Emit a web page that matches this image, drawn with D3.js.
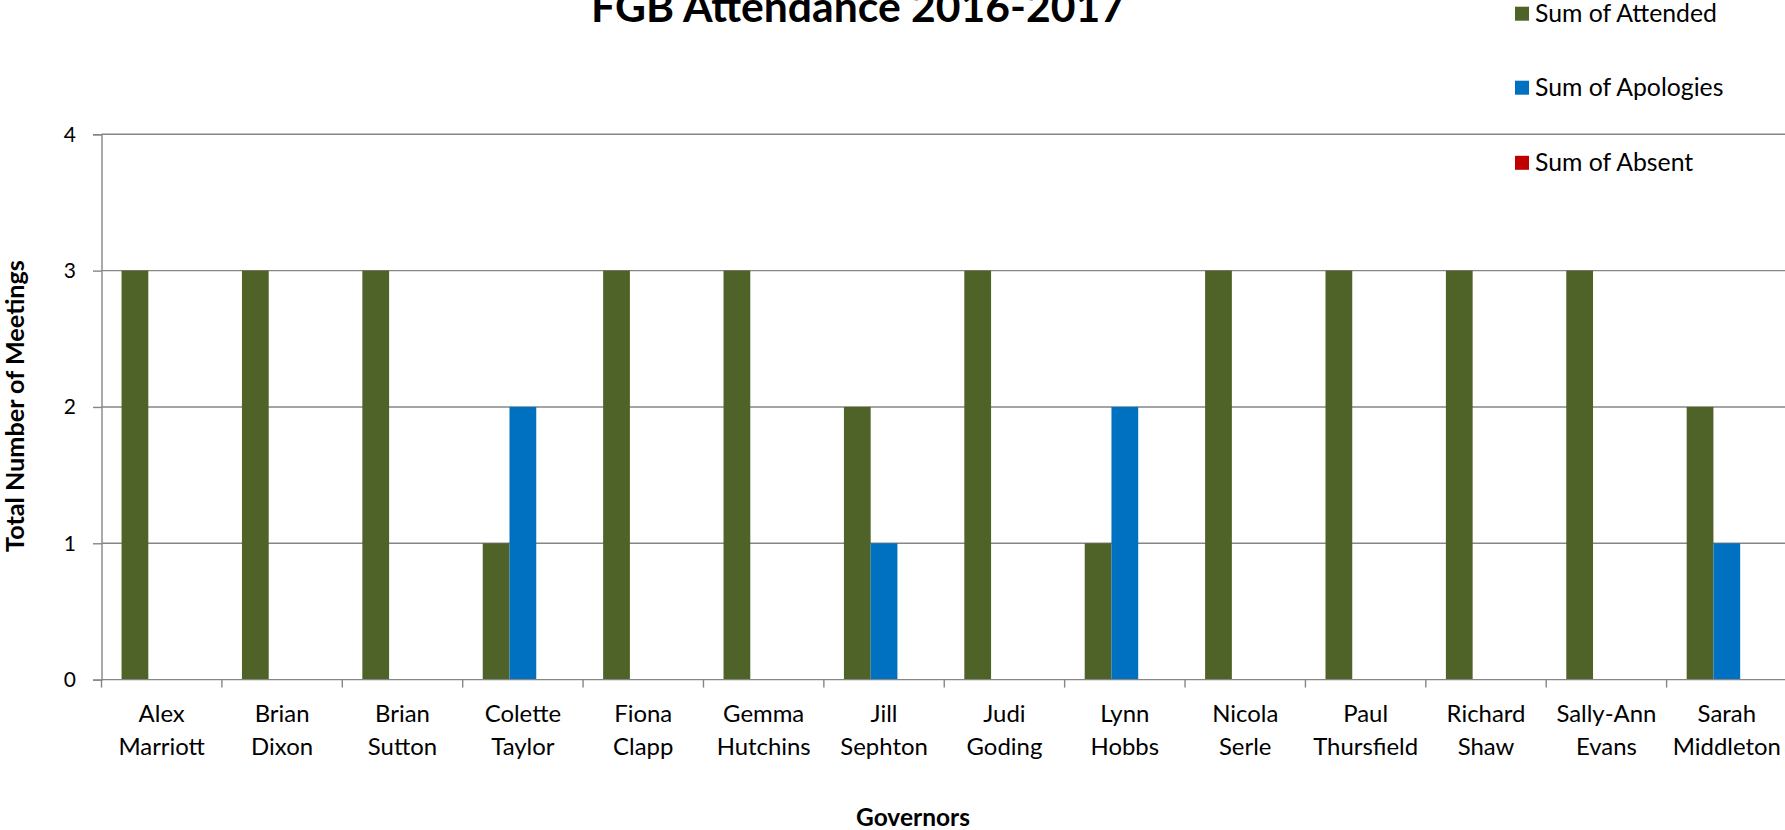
<!DOCTYPE html>
<html><head><meta charset="utf-8">
<script src="https://cdn.jsdelivr.net/npm/d3@7"></script>
<style>
html,body{margin:0;padding:0;background:#fff;}
svg{display:block;}
text{font-family:Lato, "Open Sans", sans-serif;fill:#000;}
</style></head>
<body><svg id="c" width="1785" height="830"></svg>
<script>
const governors = ["Alex Marriott","Brian Dixon","Brian Sutton","Colette Taylor","Fiona Clapp","Gemma Hutchins","Jill Sephton","Judi Goding","Lynn Hobbs","Nicola Serle","Paul Thursfield","Richard Shaw","Sally-Ann Evans","Sarah Middleton"];
const attended  = [3,3,3,1,3,3,2,3,1,3,3,3,3,2];
const apologies = [0,0,0,2,0,0,1,0,2,0,0,0,0,1];
const absent    = [0,0,0,0,0,0,0,0,0,0,0,0,0,0];
const seriesNames = ["Sum of Attended","Sum of Apologies","Sum of Absent"];
const seriesColors = ["#4F6228","#0070C0","#C00000"];
const yTicks = [0,1,2,3,4];

(function(){
const svg = d3.select("#c");
const pLeft = 101.5, pRight = 1787, pTop = 134.3, pBottom = 679.6;
const gridColor = "#868686";

// font size that makes a text of given weight reach a target width
function fitSize(str, weight, target){
  const t = svg.append("text").attr("font-size", 100).attr("font-weight", weight).text(str);
  const w = t.node().getComputedTextLength();
  t.remove();
  return 100 * target / w;
}

const x = d3.scaleBand().domain(governors).range([pLeft, pRight]).padding(0);
const y = d3.scaleLinear().domain([0,4]).range([pBottom, pTop]);
const bw = x.bandwidth()/4.5;
const xs = d3.scaleBand().domain(seriesNames).range([0.75*bw, 3.75*bw]).padding(0);

svg.append("g").selectAll("line").data(yTicks.filter(d=>d>0)).join("line")
  .attr("x1", pLeft).attr("x2", 1785).attr("y1", d=>y(d)).attr("y2", d=>y(d))
  .attr("stroke", gridColor).attr("stroke-width", 1.4);

const allSeries = [attended, apologies, absent];
const g = svg.append("g");
allSeries.forEach((vals, si) => {
  g.selectAll(null).data(governors).join("rect")
    .attr("x", d => x(d) + xs(seriesNames[si]))
    .attr("width", xs.bandwidth())
    .attr("y", (d,i) => y(vals[i]))
    .attr("height", (d,i) => y(0) - y(vals[i]))
    .attr("fill", seriesColors[si]);
});

const yAxis = d3.axisLeft(y).tickValues(yTicks).tickSize(8.5).tickPadding(6).tickFormat(d3.format("d"));
const ya = svg.append("g").attr("transform", `translate(${pLeft},0)`).call(yAxis);
ya.select(".domain").attr("stroke", gridColor).attr("stroke-width", 1.4);
ya.selectAll(".tick line").attr("stroke", gridColor).attr("stroke-width", 1.4);
ya.selectAll(".tick text").attr("font-size", 21).attr("font-family", "Lato").attr("fill","#000").attr("dx", -11);

svg.append("line").attr("x1", pLeft).attr("x2", 1785).attr("y1", pBottom).attr("y2", pBottom)
  .attr("stroke", gridColor).attr("stroke-width", 1.4);
svg.append("g").selectAll("line").data(governors).join("line")
  .attr("x1", d=>x(d)).attr("x2", d=>x(d)).attr("y1", pBottom).attr("y2", pBottom+8)
  .attr("stroke", gridColor).attr("stroke-width", 1.4);

const labelSize = fitSize("Thursfield", "normal", 105);
const xl = svg.append("g");
governors.forEach(name => {
  const idx = name.indexOf(" ");
  const lines = [name.slice(0, idx), name.slice(idx+1)];
  const t = xl.append("text").attr("text-anchor","middle").attr("font-size", labelSize);
  lines.forEach((l, i) => t.append("tspan").attr("x", x(name) + x.bandwidth()/2).attr("y", 722 + i*33).text(l));
});

svg.append("text").attr("x", 858).attr("y", 22).attr("text-anchor","middle")
  .attr("font-weight","bold").attr("font-size", fitSize("FGB Attendance 2016-2017","bold",534))
  .text("FGB Attendance 2016-2017");

svg.append("text").attr("transform","translate(24,406) rotate(-90)").attr("text-anchor","middle")
  .attr("font-weight","bold").attr("font-size", fitSize("Total Number of Meetings","bold",292))
  .text("Total Number of Meetings");
svg.append("text").attr("x", 913).attr("y", 826).attr("text-anchor","middle")
  .attr("font-weight","bold").attr("font-size", fitSize("Governors","bold",114)).text("Governors");

const legSize = fitSize("Sum of Attended", "normal", 182);
const lg = svg.append("g");
const legY = [13.7, 87.7, 162.8];
seriesNames.forEach((n,i) => {
  lg.append("rect").attr("x", 1515).attr("y", legY[i]-7).attr("width", 14).attr("height", 14).attr("fill", seriesColors[i]);
  lg.append("text").attr("x", 1535).attr("y", legY[i]).attr("dy","0.35em").attr("font-size", legSize).text(n);
});
})();
</script></body></html>
